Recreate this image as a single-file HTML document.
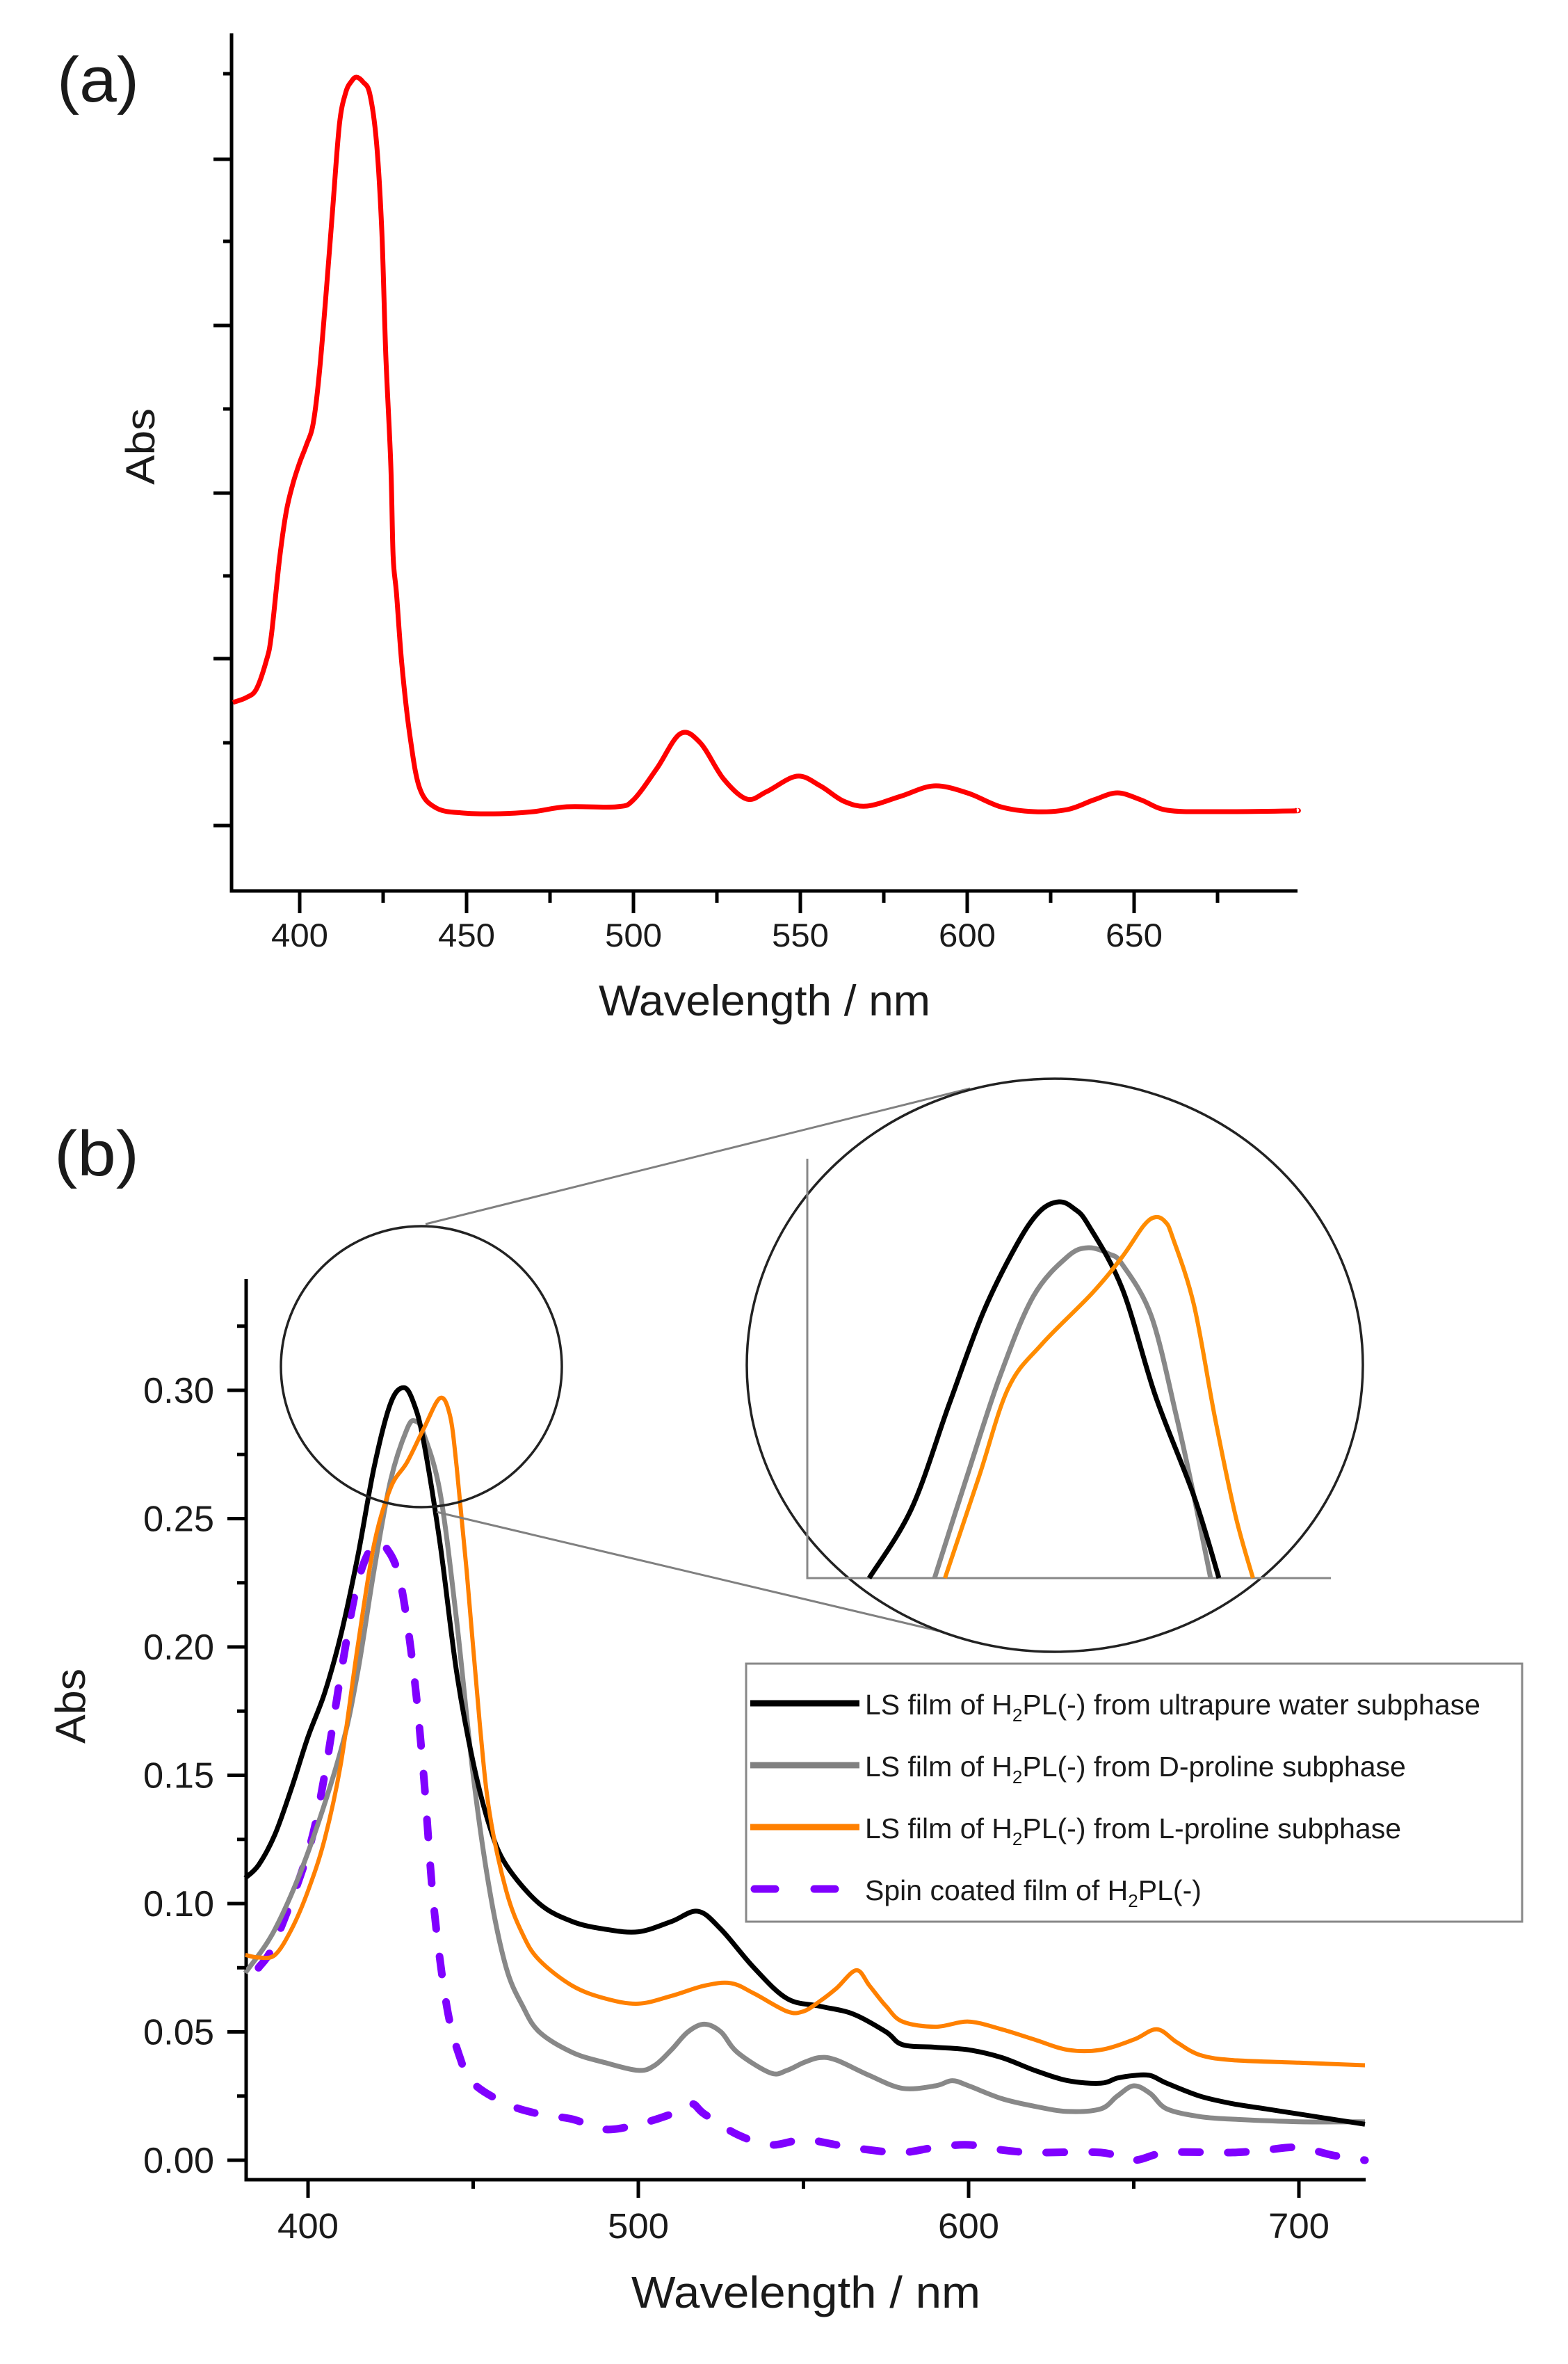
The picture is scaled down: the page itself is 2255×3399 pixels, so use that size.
<!DOCTYPE html>
<html><head><meta charset="utf-8">
<style>
html,body{margin:0;padding:0;background:#fff;}
svg{display:block;}
text{font-family:"Liberation Sans",Arial,sans-serif;fill:#1a1a1a;}
</style></head>
<body>
<svg id="s" xmlns="http://www.w3.org/2000/svg" width="2255" height="3399" viewBox="0 0 2255 3399">
<rect width="2255" height="3399" fill="#fff"/>
<!-- Panel a -->
<text x="82" y="146" font-size="92" textLength="118" lengthAdjust="spacingAndGlyphs">(a)</text>
<g id="axA" stroke="#000" stroke-width="5" fill="none">
<path d="M333,48 V1281 H1866"/>
</g>
<text transform="translate(222,642) rotate(-90)" text-anchor="middle" font-size="58" textLength="110" lengthAdjust="spacingAndGlyphs">Abs</text>
<text x="861" y="1460" font-size="62" textLength="477" lengthAdjust="spacingAndGlyphs">Wavelength / nm</text>
<path id="red" fill="none" stroke="#ff0000" stroke-width="7" stroke-linejoin="round"/>
<!-- Panel b -->
<text x="78" y="1690" font-size="92" textLength="122" lengthAdjust="spacingAndGlyphs">(b)</text>
<g stroke="#000" stroke-width="5" fill="none"><path d="M354,1839 V3134 H1964"/></g>
<text transform="translate(122,2453) rotate(-90)" text-anchor="middle" font-size="60" textLength="108" lengthAdjust="spacingAndGlyphs">Abs</text>
<text x="908" y="3318" font-size="64" textLength="502" lengthAdjust="spacingAndGlyphs">Wavelength / nm</text>
<g id="curvesB"></g>
<!-- zoom circles -->
<line x1="612" y1="1760" x2="1395" y2="1565" stroke="#808080" stroke-width="3"/>
<line x1="628" y1="2174" x2="1350" y2="2345" stroke="#808080" stroke-width="3"/>
<circle cx="606" cy="1965" r="202" fill="none" stroke="#222" stroke-width="3.5"/>
<ellipse cx="1517" cy="1963" rx="443" ry="412" fill="#fff" stroke="#222" stroke-width="3.5"/>
<path d="M1161,1666 V2269 H1914" fill="none" stroke="#888" stroke-width="3"/>
<g id="inset"></g>
<!-- legend -->
<rect x="1073" y="2392" width="1116" height="371" fill="#fff" stroke="#888" stroke-width="3"/>
<line x1="1079" y1="2449" x2="1236" y2="2449" stroke="#000" stroke-width="9"/>
<line x1="1079" y1="2538" x2="1236" y2="2538" stroke="#808080" stroke-width="9"/>
<line x1="1079" y1="2627" x2="1236" y2="2627" stroke="#ff8000" stroke-width="9"/>
<line x1="1085" y1="2716" x2="1236" y2="2716" stroke="#8000ff" stroke-width="11" stroke-dasharray="30 56" stroke-linecap="round"/>
<g font-size="41">
<text x="1244" y="2465">LS film of H<tspan font-size="26" dy="10">2</tspan><tspan dy="-10">PL(-) from ultrapure water subphase</tspan></text>
<text x="1244" y="2554">LS film of H<tspan font-size="26" dy="10">2</tspan><tspan dy="-10">PL(-) from D-proline subphase</tspan></text>
<text x="1244" y="2643">LS film of H<tspan font-size="26" dy="10">2</tspan><tspan dy="-10">PL(-) from L-proline subphase</tspan></text>
<text x="1244" y="2732">Spin coated film of H<tspan font-size="26" dy="10">2</tspan><tspan dy="-10">PL(-)</tspan></text>
</g>
<g id="ticks"></g>
</svg>
<script>
var NS="http://www.w3.org/2000/svg";
function el(p,t,a,txt){var e=document.createElementNS(NS,t);for(var k in a)e.setAttribute(k,a[k]);if(txt!==undefined)e.textContent=txt;p.appendChild(e);return e;}
function smooth(pts){var d="M"+pts[0][0].toFixed(1)+","+pts[0][1].toFixed(1);
for(var i=0;i<pts.length-1;i++){var p0=pts[i-1]||pts[i],p1=pts[i],p2=pts[i+1],p3=pts[i+2]||p2;
var c1x=p1[0]+(p2[0]-p0[0])/6,c1y=p1[1]+(p2[1]-p0[1])/6,c2x=p2[0]-(p3[0]-p1[0])/6,c2y=p2[1]-(p3[1]-p1[1])/6;
d+=" C"+c1x.toFixed(1)+","+c1y.toFixed(1)+" "+c2x.toFixed(1)+","+c2y.toFixed(1)+" "+p2[0].toFixed(1)+","+p2[1].toFixed(1);}return d;}
var svg=document.getElementById("s"),tk=document.getElementById("ticks");
// Panel a
function xa(l){return 431+(l-400)*4.8;}
var redD=[[380,1010],[384,1003],[387,991],[390,950],[391.5,914],[394,802],[396,735],[398,695],[400,665],[402,640],[404,610],[405.8,541],[407.7,434],[409.8,306],[411.9,179],[413.8,133],[415.5,117],[417,111],[419,118],[421,135],[423,204],[424.6,332],[425.8,510],[427.3,668],[428,800],[429,853],[430.6,955],[433,1057],[436,1134],[441,1162],[449,1169],[460,1170],[470,1167],[480,1160],[495,1160],[500,1150],[507,1105],[514,1055],[520,1068],[527,1120],[534,1149],[540,1138],[549,1116],[556,1130],[563,1152],[570,1159],[580,1145],[590,1130],[600,1140],[610,1160],[620,1167],[630,1164],[638,1150],[645,1140],[652,1150],[660,1165],[675,1167],[697,1166],[698.7,1165]];
document.getElementById("red").setAttribute("d",smooth(redD.map(function(p){return [xa(p[0]),p[1]];})));
for(var l=400;l<=675;l+=25){var maj=(l%50==0);el(tk,"line",{x1:xa(l),x2:xa(l),y1:1281,y2:1281+(maj?32:17),stroke:"#000","stroke-width":5});
 if(maj)el(tk,"text",{x:xa(l),y:1361,"text-anchor":"middle","font-size":"47",textLength:"82",lengthAdjust:"spacingAndGlyphs"},String(l));}
var ya=[106,229,347,468,588,709,828,947,1068,1187];
ya.forEach(function(y,i){var maj=(i%2==1);el(tk,"line",{x1:333-(maj?26:12),x2:333,y1:y,y2:y,stroke:"#000","stroke-width":5});});
// Panel b
function xb(l){return 443+(l-400)*4.75;}
function yb(a){return 3106-a*3690;}
for(var l=400;l<=700;l+=50){var maj=(l%100==0);el(tk,"line",{x1:xb(l),x2:xb(l),y1:3134,y2:3134+(maj?26:13),stroke:"#000","stroke-width":5});
 if(maj)el(tk,"text",{x:xb(l),y:3218,"text-anchor":"middle","font-size":"51",textLength:"88",lengthAdjust:"spacingAndGlyphs"},String(l));}
for(var i=0;i<=13;i++){var a=i*0.025,maj=(i%2==0),y=yb(a);el(tk,"line",{x1:354-(maj?27:13),x2:354,y1:y,y2:y,stroke:"#000","stroke-width":5});
 if(maj)el(tk,"text",{x:308,y:y+18,"text-anchor":"end","font-size":"52",textLength:"102",lengthAdjust:"spacingAndGlyphs"},a.toFixed(2));}
var black=[[381,0.110],[385,0.115],[390,0.127],[395,0.145],[400,0.165],[405,0.182],[410,0.205],[415,0.235],[420,0.27],[425,0.295],[429,0.301],[432,0.295],[435,0.28],[440,0.24],[445,0.19],[450,0.155],[455,0.13],[460,0.115],[470,0.10],[480,0.093],[490,0.09],[500,0.089],[510,0.093],[518,0.097],[525,0.09],[535,0.075],[545,0.063],[555,0.060],[565,0.057],[575,0.05],[580,0.045],[590,0.044],[600,0.043],[610,0.04],[620,0.035],[630,0.031],[640,0.030],[645,0.032],[650,0.033],[655,0.033],[660,0.03],[670,0.025],[680,0.022],[690,0.02],[700,0.018],[710,0.016],[720,0.014]];
var gray=[[381,0.073],[390,0.09],[400,0.12],[410,0.16],[415,0.19],[420,0.23],[425,0.265],[430,0.285],[432.5,0.288],[435,0.283],[440,0.26],[445,0.21],[450,0.15],[455,0.105],[460,0.075],[465,0.06],[470,0.05],[480,0.042],[490,0.038],[500,0.035],[505,0.037],[510,0.043],[515,0.05],[520,0.053],[525,0.05],[530,0.042],[540,0.034],[545,0.035],[550,0.038],[555,0.04],[560,0.039],[570,0.033],[580,0.028],[590,0.029],[595,0.031],[600,0.029],[610,0.024],[620,0.021],[630,0.019],[640,0.020],[645,0.025],[650,0.029],[655,0.026],[660,0.02],[670,0.017],[680,0.016],[700,0.015],[720,0.015]];
var orange=[[381,0.08],[385,0.079],[390,0.08],[395,0.09],[400,0.105],[405,0.125],[410,0.155],[415,0.2],[420,0.24],[425,0.262],[430,0.272],[435,0.285],[440,0.297],[443,0.29],[445,0.27],[448,0.23],[452,0.17],[455,0.135],[460,0.105],[465,0.088],[470,0.078],[480,0.068],[490,0.063],[500,0.061],[510,0.064],[520,0.068],[528,0.069],[535,0.065],[545,0.058],[550,0.058],[555,0.062],[560,0.067],[566,0.074],[570,0.068],[575,0.06],[580,0.054],[590,0.052],[600,0.054],[610,0.051],[620,0.047],[630,0.043],[640,0.043],[650,0.047],[657,0.051],[663,0.046],[670,0.041],[680,0.039],[700,0.038],[720,0.037]];
var purple=[[385,0.075],[390,0.085],[400,0.12],[405,0.15],[410,0.19],[415,0.225],[420,0.24],[424,0.238],[428,0.225],[432,0.19],[435,0.15],[438,0.1],[442,0.06],[446,0.04],[450,0.03],[460,0.022],[470,0.018],[480,0.016],[490,0.012],[500,0.014],[510,0.018],[516,0.022],[520,0.018],[530,0.01],[540,0.006],[550,0.008],[560,0.006],[570,0.004],[580,0.003],[590,0.005],[600,0.006],[610,0.004],[620,0.003],[640,0.003],[650,0.0],[660,0.003],[680,0.003],[690,0.004],[700,0.005],[710,0.002],[720,0.0]];
var cb=document.getElementById("curvesB");
function mp(d){return d.map(function(p){return [xb(p[0]),yb(p[1])];});}
el(cb,"path",{d:smooth(mp(purple)),fill:"none",stroke:"#8000ff","stroke-width":11,"stroke-dasharray":"26 40","stroke-linecap":"round"});
el(cb,"path",{d:smooth(mp(gray)),fill:"none",stroke:"#888","stroke-width":7,"stroke-linejoin":"round"});
el(cb,"path",{d:smooth(mp(black)),fill:"none",stroke:"#000","stroke-width":7,"stroke-linejoin":"round"});
el(cb,"path",{d:smooth(mp(orange)),fill:"none",stroke:"#ff8000","stroke-width":6,"stroke-linejoin":"round"});
// inset
var ins=document.getElementById("inset");
var ib=[[1250,2269],[1311,2169],[1365,2019],[1414,1887],[1462,1790],[1495,1742],[1523,1728],[1545,1738],[1565,1761],[1614,1853],[1662,2008],[1717,2151],[1753,2269]];
var ig=[[1344,2269],[1389,2128],[1438,1979],[1486,1864],[1535,1807],[1565,1794],[1595,1803],[1614,1818],[1656,1893],[1692,2037],[1717,2151],[1741,2269]];
var io=[[1359,2269],[1408,2123],[1450,1996],[1498,1933],[1571,1859],[1614,1807],[1645,1762],[1662,1750],[1676,1757],[1686,1778],[1717,1876],[1747,2037],[1777,2180],[1802,2269]];
el(ins,"path",{d:smooth(ig),fill:"none",stroke:"#888","stroke-width":7});
el(ins,"path",{d:smooth(ib),fill:"none",stroke:"#000","stroke-width":7});
el(ins,"path",{d:smooth(io),fill:"none",stroke:"#ff8c00","stroke-width":6});
</script>
</body></html>
